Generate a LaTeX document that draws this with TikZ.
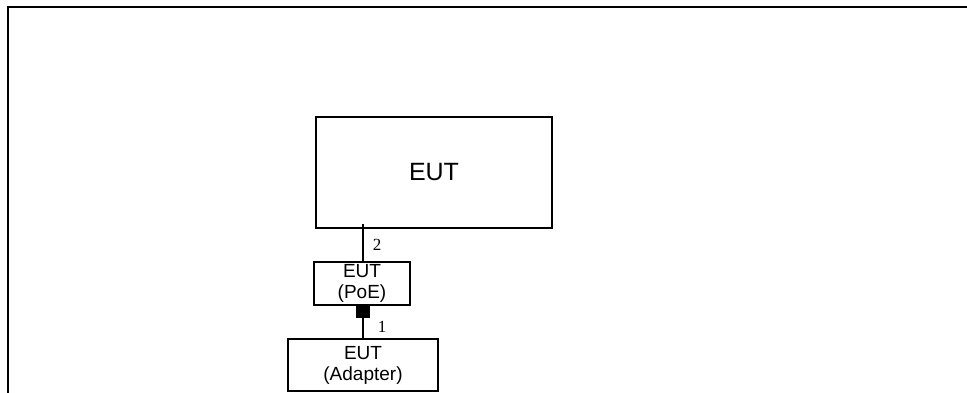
\documentclass[tikz,border=0pt]{standalone}
\usepackage{fontspec}
\setmainfont{Liberation Sans}
\newfontfamily\serifnum{Liberation Serif}
\begin{document}
\begin{tikzpicture}[x=1pt,y=-1pt,line width=1.4pt,
  box/.style={draw,rectangle,inner sep=0pt,align=center},
  small/.style={font=\fontsize{19}{21}\selectfont},
  lbl/.style={font=\serifnum\fontsize{17}{19}\selectfont,inner sep=0pt}]
\useasboundingbox (0,0) rectangle (967,392);
\draw[line width=2pt] (967,6.5) -- (8,6.5) -- (8,393);
\node[box,minimum width=236pt,minimum height=111pt,font=\fontsize{25}{28}\selectfont] (eut) at (434,172.5) {EUT};
\node[box,small,minimum width=96pt,minimum height=43pt] (poe) at (362,283.5) {EUT\\(PoE)};
\node[box,small,minimum width=150pt,minimum height=52pt] (ad) at (363,365) {EUT\\(Adapter)};
\node[draw,fill=black,rectangle,inner sep=0pt,minimum width=12pt,minimum height=11pt,anchor=north] (sq) at (363,306) {};
\coordinate (c2) at (363,224);
\draw (c2) -- (c2 |- poe.north);
\draw (sq.south) -- (sq.south |- ad.north);
\node[lbl] (l2) at (377,245) {2};
\node[lbl] (l1) at (382,327) {1};
\end{tikzpicture}
\end{document}
